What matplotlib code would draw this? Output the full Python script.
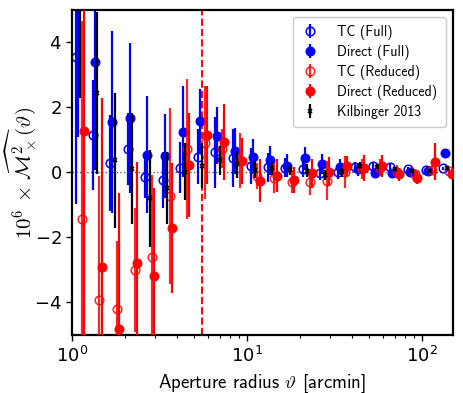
import numpy as np
import matplotlib
matplotlib.use("Agg")
import matplotlib.pyplot as plt

plt.rcParams['mathtext.fontset'] = 'cm'
plt.rcParams['axes.formatter.use_mathtext'] = True

# Bin centres (arcmin)
theta = [1.11, 1.39, 1.75, 2.21, 2.78, 3.50, 4.41, 5.55, 6.98, 8.79, 11.1,
         13.9, 17.5, 22.1, 27.8, 35.0, 44.1, 55.5, 69.8, 87.9, 111.0, 139.0]

tc_full = [3.54, 1.15, 0.28, 0.72, -0.15, -0.23, 0.15, 0.49, 0.62, 0.44, 0.20,
           0.16, 0.15, 0.11, -0.03, 0.00, 0.16, 0.20, 0.16, 0.10, 0.08, 0.13]
tc_full_err = [4.5, 1.7, 1.48, 1.1, 0.62, 0.85, 0.78, 0.85, 1.1, 0.9, 0.55,
               0.45, 0.3, 0.25, 0.2, 0.2, 0.15, 0.12, 0.1, 0.08, 0.06, 0.05]

direct_full = [5.4, 3.39, 1.56, 1.68, 0.54, 0.51, 1.25, 1.58, 1.13, 0.66, 0.49,
               0.38, 0.21, 0.44, 0.26, 0.18, 0.10, -0.03, -0.03, 0.02, 0.06, 0.59]
direct_full_err = [4.3, 3.3, 2.8, 2.3, 1.8, 1.28, 1.4, 1.0, 0.87, 0.7, 0.55,
                   0.45, 0.35, 0.35, 0.3, 0.25, 0.2, 0.15, 0.12, 0.1, 0.08, 0.06]

tc_red = [-1.43, -3.92, -4.21, -3.0, -2.59, -0.72, 0.72, 0.92, 0.73, 0.38, -0.11,
          -0.17, -0.28, -0.28, -0.25, 0.02, 0.11, 0.15, 0.02, -0.05, 0.08, 0.05]
tc_red_err = [6.1, 3.8, 2.1, 1.9, 2.5, 2.7, 2.15, 1.74, 0.6, 0.85, 0.4,
              0.45, 0.35, 0.4, 0.6, 0.5, 0.3, 0.25, 0.2, 0.15, 0.12, 0.1]

direct_red = [1.29, -2.9, -4.82, -2.79, -3.18, -1.7, 0.23, 1.15, 0.93, 0.35, -0.25,
              -0.10, -0.22, -0.03, 0.02, 0.20, 0.13, 0.20, -0.05, -0.16, 0.33, -0.05]
direct_red_err = [6.5, 5.2, 4.2, 3.1, 2.7, 2.0, 1.6, 1.5, 1.17, 0.7, 0.65,
                  0.5, 0.4, 0.45, 0.45, 0.3, 0.4, 0.35, 0.2, 0.2, 0.57, 0.15]

kilb = [5.6, 2.44, 0.37, 0.12, -0.8, -0.47, 0.02, 0.21, 0.37, 0.25, 0.09,
        0.13, 0.08, 0.06, -0.08, 0.00, 0.21, 0.18, 0.11, 0.06, 0.06, 0.13]
kilb_err = [3.3, 2.5, 2.07, 1.7, 1.5, 1.1, 0.88, 0.7, 0.46, 0.42, 0.25,
            0.2, 0.15, 0.2, 0.15, 0.15, 0.1, 0.08, 0.07, 0.06, 0.05, 0.05]

theta_cut = 5.5

th = np.array(theta)
fig = plt.figure(figsize=(4.63, 3.93), dpi=100)
ax = fig.add_axes([0.1555, 0.1476, 0.8225, 0.827])

ms = 6.2
elw = 1.6
ax.axhline(0, color='0.35', ls=':', lw=1.0, zorder=1)
ax.axvline(theta_cut, color='red', ls='--', lw=1.4, zorder=1)

ax.errorbar(th * 0.944, tc_full, yerr=tc_full_err, fmt='o', color='blue',
            mfc='none', mec='blue', ms=ms, mew=1.1, elinewidth=elw, capsize=0,
            label='TC (Full)', zorder=2)
ax.errorbar(th * 0.971, direct_full, yerr=direct_full_err, fmt='o', color='blue',
            ms=ms, elinewidth=elw, capsize=0, label='Direct (Full)', zorder=2)
ax.errorbar(th * 1.031, tc_red, yerr=tc_red_err, fmt='o', color='red',
            mfc='none', mec='red', ms=ms, mew=1.1, elinewidth=elw, capsize=0,
            label='TC (Reduced)', zorder=3, alpha=0.85)
ax.errorbar(th * 1.062, direct_red, yerr=direct_red_err, fmt='o', color='red',
            ms=ms, elinewidth=elw, capsize=0, label='Direct (Reduced)', zorder=3)
ax.errorbar(th, kilb, yerr=kilb_err, fmt='x', color='k', ms=3.5, mew=1.2,
            elinewidth=elw, capsize=0, label='Kilbinger 2013', zorder=4)

ax.set_xscale('log')
ax.set_xlim(1, 150)
ax.set_ylim(-5, 5)
ax.set_yticks([-4, -2, 0, 2, 4])

for s in ax.spines.values():
    s.set_linewidth(1.6)
ax.tick_params(axis='both', which='major', labelsize=13, width=1.0, length=4)
ax.tick_params(axis='both', which='minor', width=0.8, length=2.5)

ax.set_xlabel(r'Aperture radius $\vartheta$ [arcmin]', family='cmss10', fontsize=13.5)
ax.set_ylabel(r'$10^6\,\times\,\widehat{\mathcal{M}^2_\times}(\vartheta)$', fontsize=15)
ax.yaxis.set_label_coords(-0.09, 0.5)

leg = ax.legend(loc='upper right', prop={'family': 'cmss10', 'size': 10},
                frameon=True, fancybox=True, edgecolor='0.8', framealpha=1.0,
                handlelength=1.2, handletextpad=1.4, borderpad=0.6, labelspacing=0.35)

fig.savefig('out.png', dpi=100)
